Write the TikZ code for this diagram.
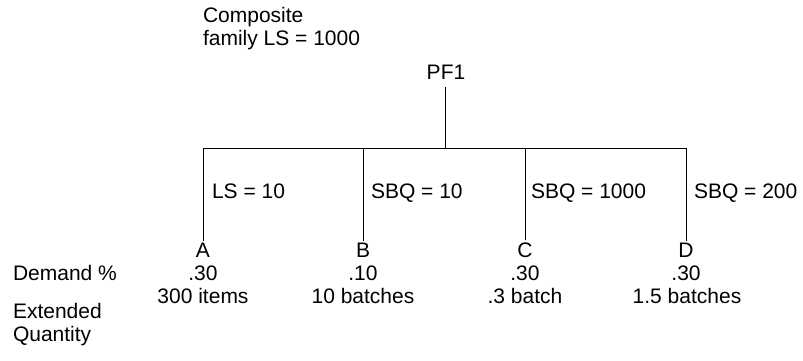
\documentclass[tikz,border=0pt]{standalone}
\usepackage{fontspec}
\setmainfont{Liberation Sans}
\begin{document}
\begin{tikzpicture}[x=1pt,y=-1pt,
  txt/.style={inner sep=0pt,outer sep=0pt,font=\fontsize{21}{23}\selectfont},
  lbl/.style={txt,anchor=base west},
  ctr/.style={txt,anchor=base},
  item/.style={txt,anchor=base,outer sep=2pt},
  link/.style={draw=black,line width=0.9pt}]
\useasboundingbox (0,0) rectangle (803,360);
% header
\node[lbl] (comp1) at (203,22) {Composite};
\node[lbl] (comp2) at (203,45) {family LS = 1000};
\node[ctr,outer sep=8pt] (pf1) at (446,79) {PF1};
\coordinate (hub) at (445,148);
% items
\node[item] (A) at (203,257) {A};
\node[item] (B) at (363,257) {B};
\node[item] (C) at (525,257) {C};
\node[item] (D) at (686,257) {D};
% connectors
\draw[link] (pf1.south -| hub) -- (hub);
\draw[link] (A.north) -- (A.north |- hub) -- (D.north |- hub) -- (D.north);
\draw[link] (B.north) -- (B.north |- hub);
\draw[link] (C.north) -- (C.north |- hub);
% lot size labels
\node[lbl] (lA) at (212,198) {LS = 10};
\node[lbl] (lB) at (371,198) {SBQ = 10};
\node[lbl] (lC) at (531,198) {SBQ = 1000};
\node[lbl] (lD) at (694,198) {SBQ = 200};
% demand row
\node[lbl] (dem) at (13,280) {Demand \%};
\node[ctr] (pA) at (203,280) {.30};
\node[ctr] (pB) at (363,280) {.10};
\node[ctr] (pC) at (525,280) {.30};
\node[ctr] (pD) at (686,280) {.30};
% extended quantity row
\node[ctr] (qA) at (203,303) {300 items};
\node[ctr] (qB) at (363,303) {10 batches};
\node[ctr] (qC) at (525,303) {.3 batch};
\node[ctr] (qD) at (687,303) {1.5 batches};
\node[lbl] (ext1) at (13,318) {Extended};
\node[lbl] (ext2) at (13,341) {Quantity};
\end{tikzpicture}
\end{document}
